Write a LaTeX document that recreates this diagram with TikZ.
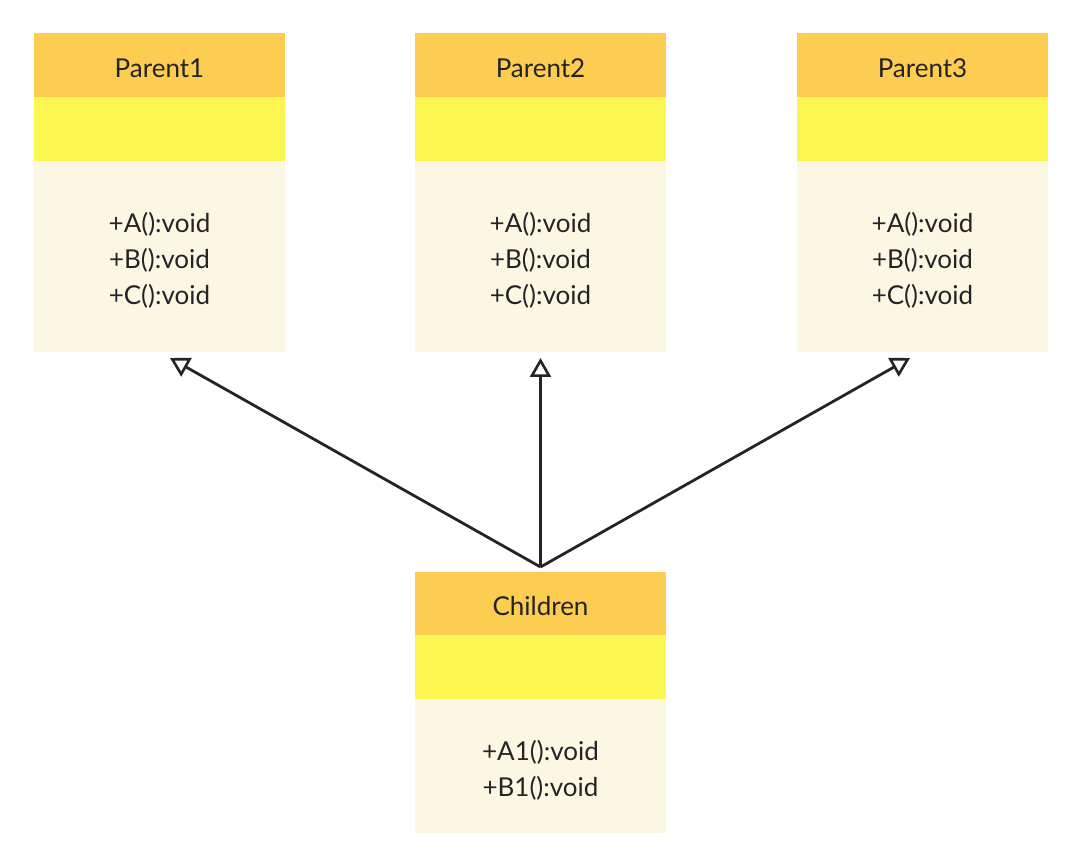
\documentclass[tikz,border=0pt]{standalone}
\usepackage{fontspec}
\setmainfont{Lato}
\usetikzlibrary{arrows.meta}
\definecolor{hdr}{RGB}{252,205,80}
\definecolor{attr}{RGB}{251,246,80}
\definecolor{body}{RGB}{251,247,226}
\definecolor{ink}{RGB}{36,36,40}
\begin{document}
\begin{tikzpicture}[x=1pt,y=-1pt,
  sect/.style={inner sep=0pt, outer sep=0pt, minimum width=251pt},
  txt/.style={inner sep=0pt, text=ink, font=\fontsize{26}{36}\selectfont, align=center, yshift=-3pt},
  hbox/.style={sect, fill=hdr, minimum height=64pt},
  abox/.style={sect, fill=attr, minimum height=64pt},
  mbox/.style={sect, fill=body},
  inh/.style={draw=ink, line width=2.8pt, -{Triangle[open, length=19pt, width=21pt, line width=2.6pt]}}
]
\useasboundingbox (0,0) rectangle (1080,866);
% Parent1
\node[hbox, label={[txt]center:Parent1}] (p1h) at (159.5,65) {};
\node[abox] (p1a) at (159.5,129) {};
\node[mbox, minimum height=191pt, label={[txt,yshift=-1pt]center:+A():void\\+B():void\\+C():void}] (p1m) at (159.5,256.5) {};
% Parent2
\node[hbox, label={[txt]center:Parent2}] (p2h) at (540.5,65) {};
\node[abox] (p2a) at (540.5,129) {};
\node[mbox, minimum height=191pt, label={[txt,yshift=-1pt]center:+A():void\\+B():void\\+C():void}] (p2m) at (540.5,256.5) {};
% Parent3
\node[hbox, label={[txt]center:Parent3}] (p3h) at (922.5,65) {};
\node[abox] (p3a) at (922.5,129) {};
\node[mbox, minimum height=191pt, label={[txt,yshift=-1pt]center:+A():void\\+B():void\\+C():void}] (p3m) at (922.5,256.5) {};
% Children
\node[hbox, minimum height=63pt, label={[txt]center:Children}] (ch) at (540.5,603.5) {};
\node[abox] (ca) at (540.5,667) {};
\node[mbox, minimum height=134pt, label={[txt,yshift=-1pt]center:+A1():void\\+B1():void}] (cm) at (540.5,766) {};
% connectors
\coordinate (src) at ([yshift=5pt]ch.north);
\draw[inh] (src) -- ([xshift=10.5pt,yshift=-6pt]p1m.south);
\draw[inh] (src) -- ([yshift=-6pt]p2m.south);
\draw[inh] (src) -- ([xshift=-12.5pt,yshift=-6pt]p3m.south);
\end{tikzpicture}
\end{document}
